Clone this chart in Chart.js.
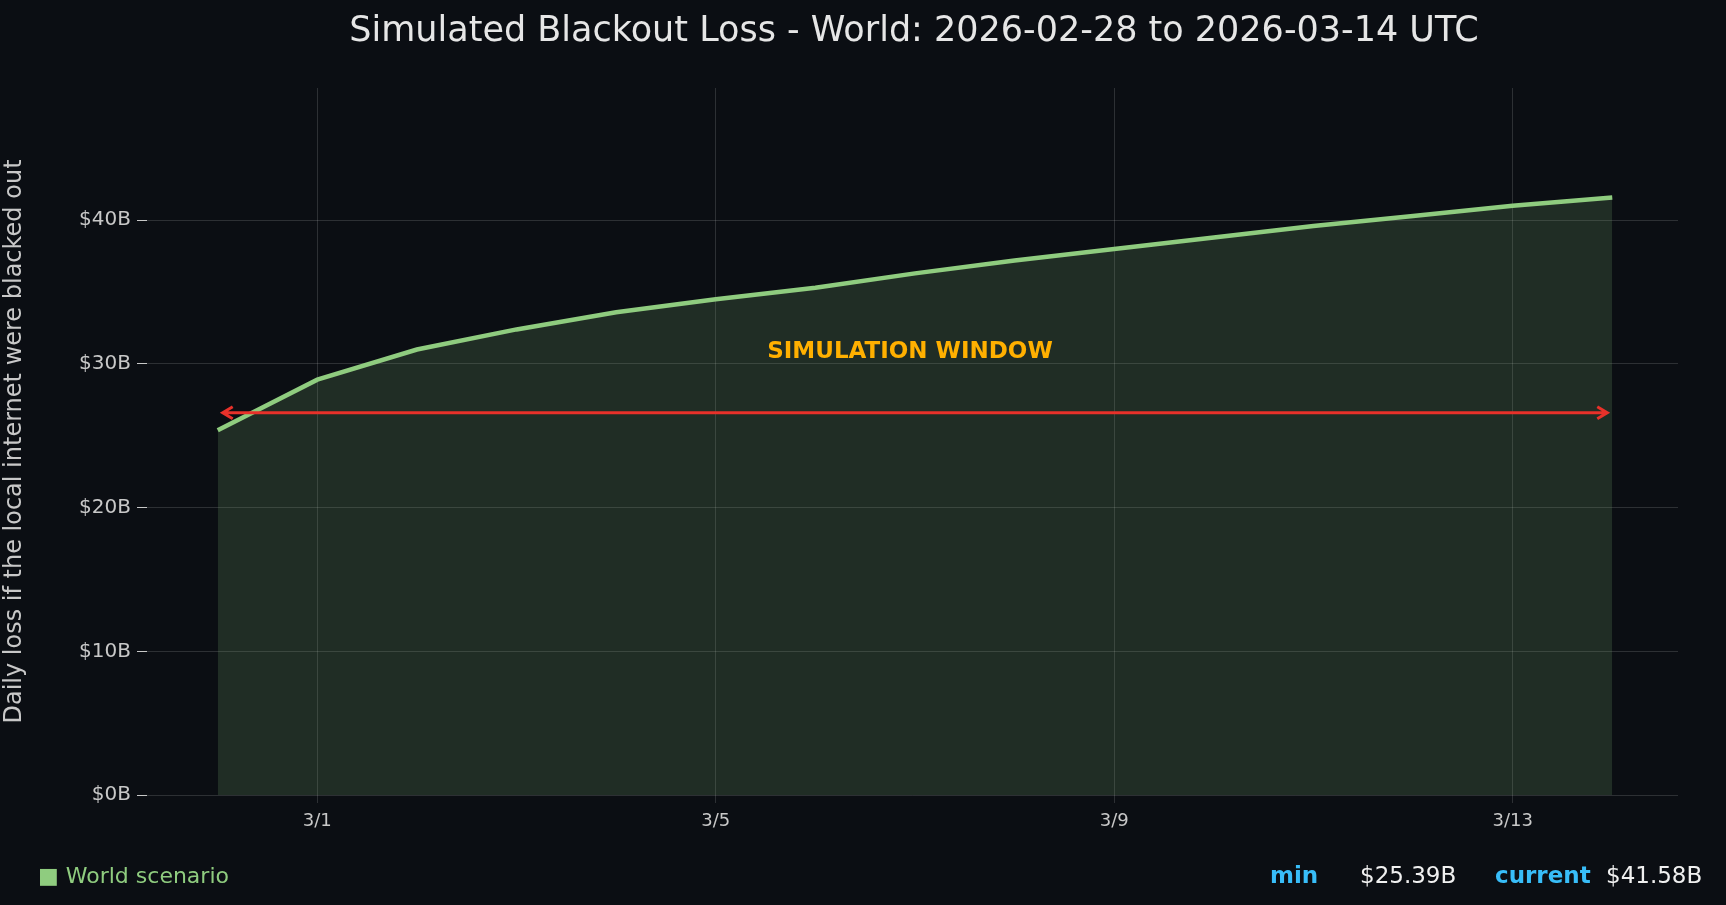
<!DOCTYPE html>
<html>
<head>
<meta charset="utf-8">
<script src="https://cdn.jsdelivr.net/npm/chart.js@4.4.1/dist/chart.umd.min.js"></script>
<style>
html, body { margin: 0; padding: 0; background: #0b0e13; overflow: hidden; }
#wrap { width: 1726px; height: 905px; }
</style>
</head>
<body>
<div id="wrap"><canvas id="chart" width="1726" height="905"></canvas></div>
<script>
// Day offsets from 2026-02-28
const dayIndex = [0, 1, 2, 3, 4, 5, 6, 7, 8, 9, 10, 11, 12, 13, 14];
const lossBillions = [25.39, 28.9, 31.0, 32.4, 33.6, 34.5, 35.3, 36.3, 37.2, 38.0, 38.8, 39.6, 40.3, 41.0, 41.58];
const xTickDays = [1, 5, 9, 13];
const xTickLabels = ['3/1', '3/5', '3/9', '3/13'];
const windowLevel = 26.6;
const windowStart = 0.05;
const windowEnd = 13.95;

const FONT = 'DejaVu Sans';

// Title, simulation window arrow and footer
const overlayPlugin = {
    id: 'overlay',
    afterDatasetsDraw(chart) {
        const ctx = chart.ctx;
        const x = chart.scales.x, y = chart.scales.y;
        ctx.save();
        // arrow
        const yy = y.getPixelForValue(windowLevel);
        const x1 = x.getPixelForValue(windowStart), x2 = x.getPixelForValue(windowEnd);
        ctx.strokeStyle = '#e8312a';
        ctx.lineWidth = 3;
        ctx.beginPath();
        ctx.moveTo(x1, yy); ctx.lineTo(x2, yy);
        ctx.moveTo(x1 + 10, yy - 6); ctx.lineTo(x1, yy); ctx.lineTo(x1 + 10, yy + 6);
        ctx.moveTo(x2 - 10, yy - 6); ctx.lineTo(x2, yy); ctx.lineTo(x2 - 10, yy + 6);
        ctx.stroke();
        // label
        ctx.fillStyle = '#ffb000';
        ctx.font = 'bold 23px ' + FONT;
        ctx.textAlign = 'center';
        ctx.textBaseline = 'middle';
        ctx.fillText('SIMULATION WINDOW', (x1 + x2) / 2 - 5, y.getPixelForValue(30.8));
        ctx.restore();
    },
    afterDraw(chart) {
        const ctx = chart.ctx;
        ctx.save();
        ctx.textBaseline = 'middle';
        ctx.fillStyle = '#e6e6e6';
        ctx.font = '35px ' + FONT;
        ctx.textAlign = 'center';
        ctx.fillText('Simulated Blackout Loss - World: 2026-02-28 to 2026-03-14 UTC', 914, 32);
        ctx.textAlign = 'left';
        ctx.font = '22px ' + FONT;
        ctx.fillStyle = '#8fcc7f';
        ctx.fillText('■ World scenario', 38, 877);
        ctx.font = 'bold 23px ' + FONT;
        ctx.fillStyle = '#38bdf8';
        ctx.fillText('min', 1270, 877);
        ctx.fillText('current', 1495, 877);
        ctx.font = '23px ' + FONT;
        ctx.fillStyle = '#f0f0f0';
        ctx.fillText('$25.39B', 1360, 877);
        ctx.fillText('$41.58B', 1606, 877);
        ctx.restore();
    }
};

new Chart(document.getElementById('chart'), {
    type: 'line',
    data: {
        datasets: [{
            data: dayIndex.map((d, i) => ({ x: d, y: lossBillions[i] })),
            borderColor: '#8fcc7f',
            borderWidth: 4.5,
            backgroundColor: 'rgba(120, 170, 110, 0.2)',
            fill: 'origin',
            pointRadius: 0,
            tension: 0
        }]
    },
    options: {
        responsive: false,
        animation: false,
        layout: { padding: { top: 88, right: 48, left: 0, bottom: 0 } },
        plugins: { legend: { display: false }, tooltip: { enabled: false }, title: { display: false } },
        scales: {
            x: {
                type: 'linear',
                min: -0.71,
                max: 14.66,
                afterBuildTicks(scale) { scale.ticks = xTickDays.map(v => ({ value: v })); },
                afterFit(scale) { scale.height = 110; },
                ticks: {
                    color: '#c8c8c8',
                    font: { family: FONT, size: 18 },
                    padding: 8,
                    callback: (v) => xTickLabels[xTickDays.indexOf(v)]
                },
                grid: { color: 'rgba(255,255,255,0.14)', drawTicks: true, tickLength: 8 },
                border: { display: false }
            },
            y: {
                min: 0,
                max: 49.2,
                afterBuildTicks(scale) { scale.ticks = [0, 10, 20, 30, 40].map(v => ({ value: v })); },
                afterFit(scale) { scale.width = 147; },
                ticks: {
                    color: '#c8c8c8',
                    font: { family: FONT, size: 20 },
                    padding: 6,
                    callback: (v) => '$' + v + 'B'
                },
                grid: { color: 'rgba(255,255,255,0.14)', tickLength: 10, tickColor: '#c8c8c8' },
                border: { display: false },
                title: {
                    display: true,
                    text: 'Daily loss if the local internet were blacked out',
                    color: '#c8c8c8',
                    font: { family: FONT, size: 24 },
                    padding: { top: 0, bottom: 4 }
                }
            }
        }
    },
    plugins: [overlayPlugin]
});
</script>
</body>
</html>
